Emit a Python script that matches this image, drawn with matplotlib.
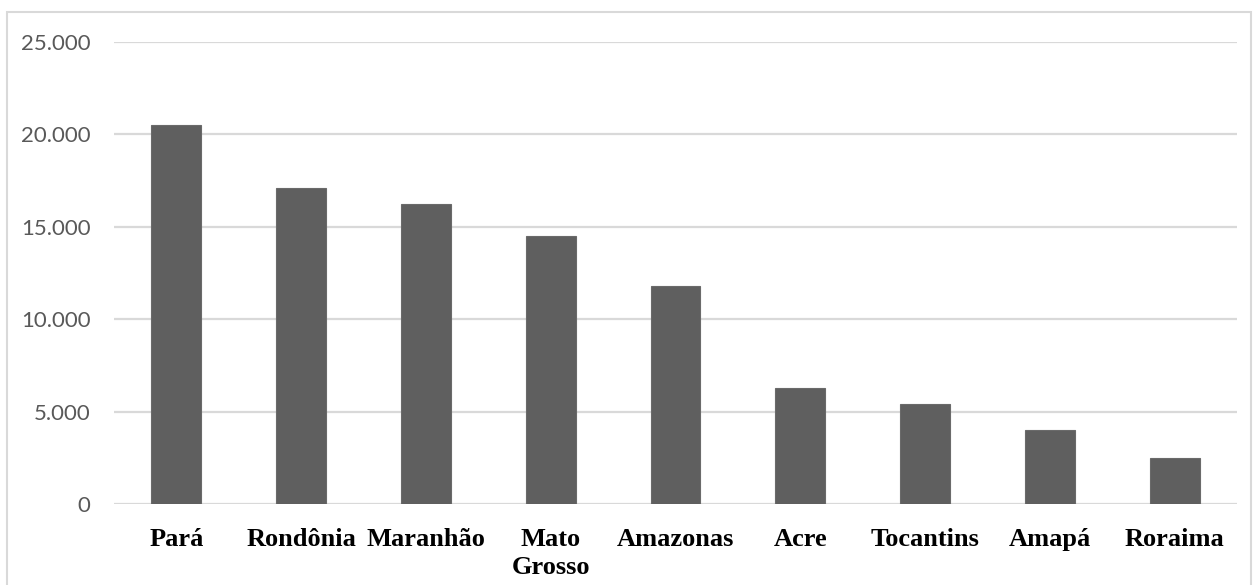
import matplotlib
matplotlib.use("Agg")
import matplotlib.pyplot as plt
from matplotlib.patches import Rectangle
from matplotlib.ticker import FuncFormatter

# Values per state
states = ["Pará", "Rondônia", "Maranhão", "Mato\nGrosso", "Amazonas",
          "Acre", "Tocantins", "Amapá", "Roraima"]
values = [20500, 17100, 16250, 14500, 11800, 6270, 5420, 4020, 2490]
y_ticks = [0, 5000, 10000, 15000, 20000, 25000]

W, H, DPI = 1256, 585, 100
fig = plt.figure(figsize=(W / DPI, H / DPI), dpi=DPI)
fig.patch.set_facecolor("white")

# Light chart-area frame
fig.patches.append(Rectangle((7 / W, -0.02), (1251 - 7) / W, 1.02 - 12 / H,
                             transform=fig.transFigure, fill=False,
                             edgecolor="#d9d9d9", linewidth=1.5))

ax = fig.add_axes([114 / W, (H - 504) / H, (1237 - 114) / W, (504 - 41.7) / H])
x = range(len(states))
ax.bar(x, values, width=0.4, color="#5f5f5f", edgecolor="#6a6a6a",
       linewidth=0.8, zorder=3)

ax.set_xlim(-0.5, len(states) - 0.5)
ax.set_ylim(0, 25000)
ax.set_yticks(y_ticks)
ax.yaxis.set_major_formatter(
    FuncFormatter(lambda v, p: f"{int(v):,}".replace(",", ".")))
ax.grid(axis="y", color="#d9d9d9", linewidth=1.6, zorder=0)
for s in ax.spines.values():
    s.set_visible(False)
ax.tick_params(axis="both", length=0)
ax.tick_params(axis="y", pad=17, labelcolor="#595959")
for lab in ax.get_yticklabels():
    lab.set_fontfamily("Lato")
    lab.set_fontsize(16)

ax.set_xticks(list(x))
ax.set_xticklabels(states, fontfamily="Liberation Serif", fontweight="bold",
                   fontsize=19, color="black", linespacing=1.32)
ax.tick_params(axis="x", pad=17)

fig.savefig("out.png", dpi=DPI, facecolor="white")
